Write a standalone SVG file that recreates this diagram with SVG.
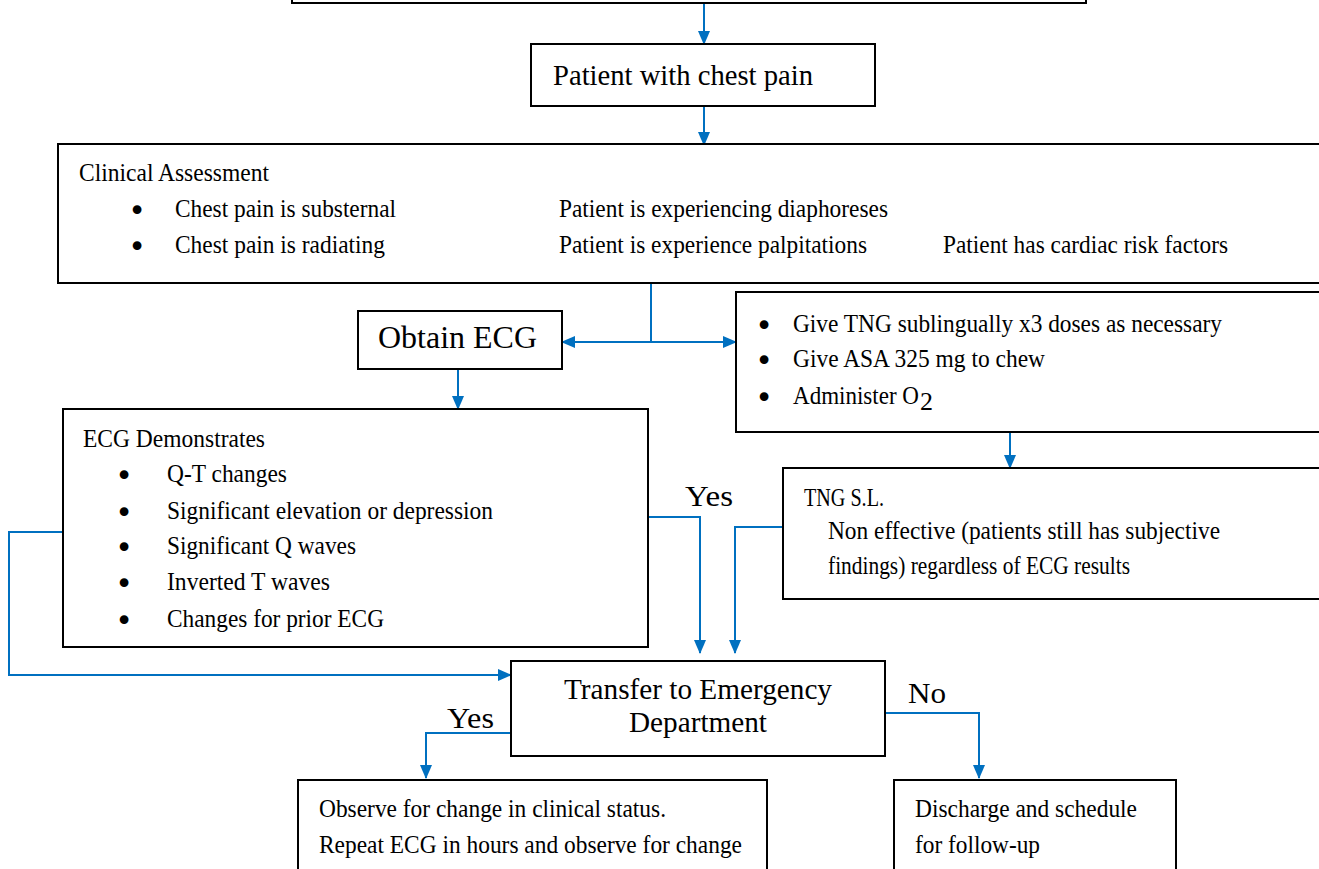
<svg xmlns="http://www.w3.org/2000/svg" width="1319" height="869" viewBox="0 0 1319 869">
<style>
.box{fill:#fff;stroke:#000;stroke-width:2}
.c{fill:none;stroke:#0070C0;stroke-width:2}
text{font-family:"Liberation Serif","Times New Roman",serif;fill:#000}
.t{font-size:25px}
.m{font-size:29px}
.l{font-size:31px}
.b{font-size:30px;font-family:"DejaVu Sans",sans-serif}
</style>
<defs>
<marker id="ah" markerWidth="14" markerHeight="14" refX="13" refY="7" orient="auto" markerUnits="userSpaceOnUse">
<path d="M0,1 L14,7 L0,13 z" fill="#0070C0"/>
</marker>
</defs>
<g id="connectors">
<path class="c" d="M704,3 V44" marker-end="url(#ah)"/>
<path class="c" d="M704,106 V145" marker-end="url(#ah)"/>
<path class="c" d="M651,283 V342 H562" marker-end="url(#ah)"/>
<path class="c" d="M651,342 H736" marker-end="url(#ah)"/>
<path class="c" d="M458,369 V409" marker-end="url(#ah)"/>
<path class="c" d="M1010,432 V468" marker-end="url(#ah)"/>
<path class="c" d="M648,517 H700 V653" marker-end="url(#ah)"/>
<path class="c" d="M783,527 H735 V653" marker-end="url(#ah)"/>
<path class="c" d="M63,532 H9 V675 H511" marker-end="url(#ah)"/>
<path class="c" d="M511,733 H426 V778" marker-end="url(#ah)"/>
<path class="c" d="M885,713 H979 V778" marker-end="url(#ah)"/>
<text class="m" x="685" y="506" textLength="48" lengthAdjust="spacingAndGlyphs">Yes</text>
<text class="m" x="447" y="728" textLength="47" lengthAdjust="spacingAndGlyphs">Yes</text>
<text class="m" x="908" y="703" textLength="38" lengthAdjust="spacingAndGlyphs">No</text>
</g>
<g id="top">
<rect class="box" x="292" y="-20" width="794" height="23"/>
</g>
<g id="patient">
<rect class="box" x="531" y="44" width="344" height="62"/>
<text class="m" x="553" y="85" textLength="260" lengthAdjust="spacingAndGlyphs">Patient with chest pain</text>
</g>
<g id="clinical">
<rect class="box" x="58" y="144" width="1280" height="139"/>
<text class="t" x="79" y="181" textLength="190" lengthAdjust="spacingAndGlyphs">Clinical Assessment</text>
<text class="b" x="137" y="221" text-anchor="middle">•</text>
<text class="t" x="175" y="217" textLength="221" lengthAdjust="spacingAndGlyphs">Chest pain is substernal</text>
<text class="b" x="137" y="257" text-anchor="middle">•</text>
<text class="t" x="175" y="253" textLength="210" lengthAdjust="spacingAndGlyphs">Chest pain is radiating</text>
<text class="t" x="559" y="217" textLength="329" lengthAdjust="spacingAndGlyphs">Patient is experiencing diaphoreses</text>
<text class="t" x="559" y="253" textLength="308" lengthAdjust="spacingAndGlyphs">Patient is experience palpitations</text>
<text class="t" x="943" y="253" textLength="285" lengthAdjust="spacingAndGlyphs">Patient has cardiac risk factors</text>
</g>
<g id="obtain">
<rect class="box" x="358" y="311" width="204" height="58"/>
<text class="l" x="378" y="348" textLength="159" lengthAdjust="spacingAndGlyphs">Obtain ECG</text>
</g>
<g id="give">
<rect class="box" x="736" y="292" width="600" height="140"/>
<text class="b" x="764" y="336" text-anchor="middle">•</text>
<text class="t" x="793" y="332" textLength="429" lengthAdjust="spacingAndGlyphs">Give TNG sublingually x3 doses as necessary</text>
<text class="b" x="764" y="371" text-anchor="middle">•</text>
<text class="t" x="793" y="367" textLength="252" lengthAdjust="spacingAndGlyphs">Give ASA 325 mg to chew</text>
<text class="b" x="764" y="408" text-anchor="middle">•</text>
<text class="t" x="793" y="404"><tspan textLength="126" lengthAdjust="spacingAndGlyphs">Administer O</tspan><tspan font-size="26" dx="1" dy="6">2</tspan></text>
</g>
<g id="ecg">
<rect class="box" x="63" y="409" width="585" height="238"/>
<text class="t" x="83" y="447" textLength="182" lengthAdjust="spacingAndGlyphs">ECG Demonstrates</text>
<text class="b" x="124" y="486" text-anchor="middle">•</text>
<text class="t" x="167" y="482" textLength="120" lengthAdjust="spacingAndGlyphs">Q-T changes</text>
<text class="b" x="124" y="523" text-anchor="middle">•</text>
<text class="t" x="167" y="519" textLength="326" lengthAdjust="spacingAndGlyphs">Significant elevation or depression</text>
<text class="b" x="124" y="558" text-anchor="middle">•</text>
<text class="t" x="167" y="554" textLength="189" lengthAdjust="spacingAndGlyphs">Significant Q waves</text>
<text class="b" x="124" y="594" text-anchor="middle">•</text>
<text class="t" x="167" y="590" textLength="163" lengthAdjust="spacingAndGlyphs">Inverted T waves</text>
<text class="b" x="124" y="631" text-anchor="middle">•</text>
<text class="t" x="167" y="627" textLength="217" lengthAdjust="spacingAndGlyphs">Changes for prior ECG</text>
</g>
<g id="tngsl">
<rect class="box" x="783" y="468" width="560" height="131"/>
<text class="t" x="804" y="506" textLength="80" lengthAdjust="spacingAndGlyphs">TNG S.L.</text>
<text class="t" x="828" y="539" textLength="392" lengthAdjust="spacingAndGlyphs">Non effective (patients still has subjective</text>
<text class="t" x="828" y="574" textLength="302" lengthAdjust="spacingAndGlyphs">findings) regardless of ECG results</text>
</g>
<g id="transfer">
<rect class="box" x="511" y="661" width="374" height="95"/>
<text class="m" x="564" y="699" textLength="268" lengthAdjust="spacingAndGlyphs">Transfer to Emergency</text>
<text class="m" x="629" y="732" textLength="138" lengthAdjust="spacingAndGlyphs">Department</text>
</g>
<g id="observe">
<rect class="box" x="298" y="780" width="469" height="110"/>
<text class="t" x="319" y="817" textLength="347" lengthAdjust="spacingAndGlyphs">Observe for change in clinical status.</text>
<text class="t" x="319" y="853" textLength="423" lengthAdjust="spacingAndGlyphs">Repeat ECG in hours and observe for change</text>
</g>
<g id="discharge">
<rect class="box" x="894" y="780" width="282" height="110"/>
<text class="t" x="915" y="817" textLength="222" lengthAdjust="spacingAndGlyphs">Discharge and schedule</text>
<text class="t" x="915" y="853" textLength="125" lengthAdjust="spacingAndGlyphs">for follow-up</text>
</g>
</svg>
